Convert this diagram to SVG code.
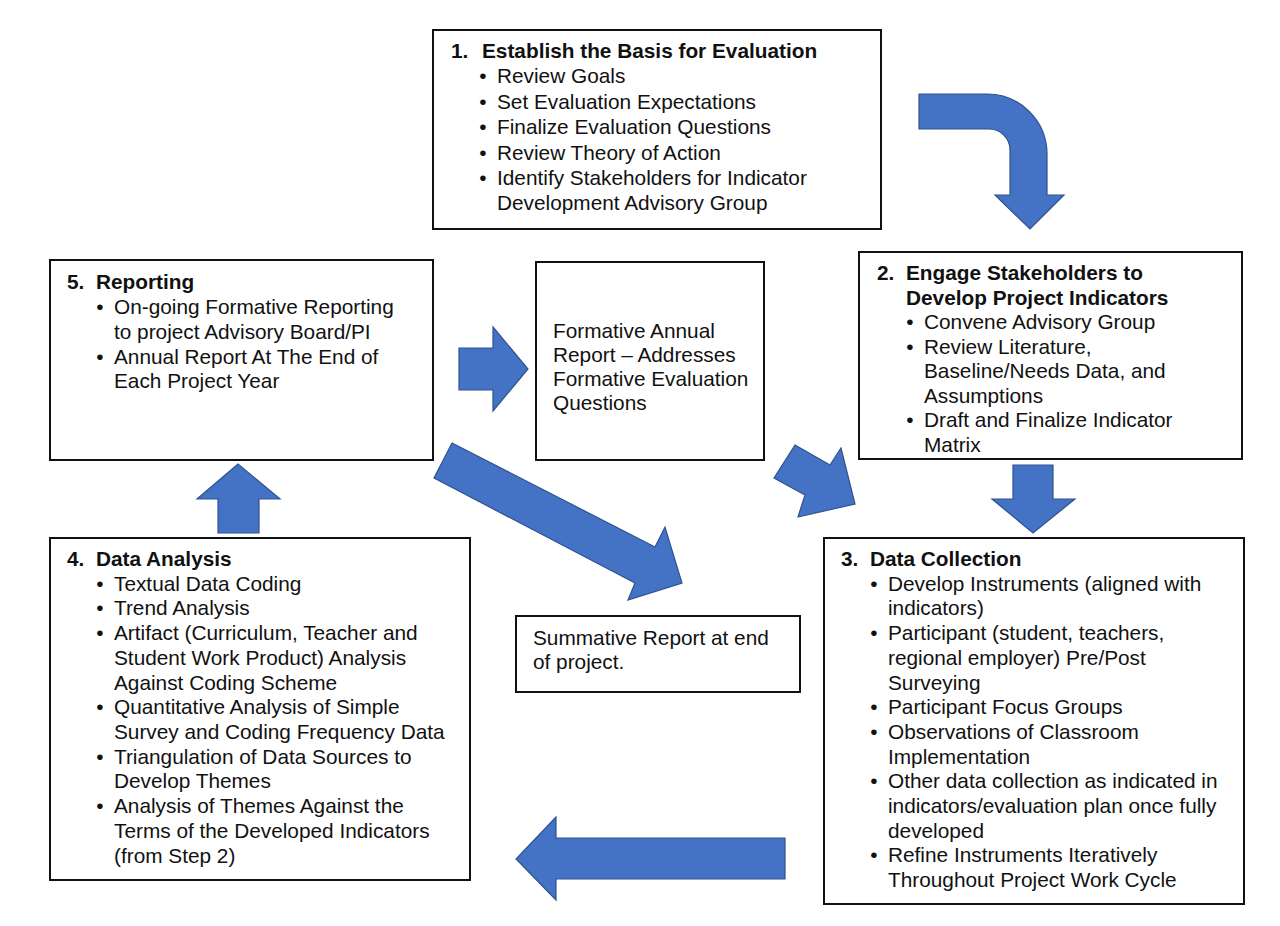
<svg xmlns="http://www.w3.org/2000/svg" width="1280" height="926" viewBox="0 0 1280 926">
<style>
.box{fill:#fff;stroke:#111;stroke-width:2}
text{font-family:"Liberation Sans",Arial,sans-serif;font-size:20.8px;fill:#111}
.b{font-weight:bold}
.bu{text-anchor:middle}
.arr{fill:#4472C4;stroke:#2F528F;stroke-width:1.2;stroke-linejoin:miter}
</style>
<rect width="1280" height="926" fill="#fff"/>
<g id="connectors">
<path class="arr" d="M919,94 H987 A60,60 0 0 1 1047,154 V195 H1064 L1030,229 L995,195 H1010 V150 A21,21 0 0 0 989,129 H919 Z"/>
<path class="arr" d="M459,348 H493 V327 L528,369 L493,411 V390 H459 Z"/>
<path class="arr" d="M452,443 L655,547 L665,527 L682,583 L628,600 L635,583 L434,478 Z"/>
<path class="arr" d="M795,445 L830,465 L841,448 L855,504 L798,517 L805,495 L774,478 Z"/>
<path class="arr" d="M1013,465 H1053 V499 H1075 L1033,533 L992,499 H1013 Z"/>
<path class="arr" d="M218,533 V499 H197 L238,464 L280,499 H259 V533 Z"/>
<path class="arr" d="M785,838 V879 H556 V900 L516,859 L556,817 V838 Z"/>
</g>
<g id="node1">
<rect class="box" x="433" y="30" width="448" height="199"/>
<text class="b" x="451" y="58">1.</text>
<text class="b" x="482" y="58">Establish the Basis for Evaluation</text>
<text class="bu" x="483" y="83">•</text><text x="497" y="83">Review Goals</text>
<text class="bu" x="483" y="109">•</text><text x="497" y="109">Set Evaluation Expectations</text>
<text class="bu" x="483" y="134">•</text><text x="497" y="134">Finalize Evaluation Questions</text>
<text class="bu" x="483" y="160">•</text><text x="497" y="160">Review Theory of Action</text>
<text class="bu" x="483" y="185">•</text><text x="497" y="185">Identify Stakeholders for Indicator</text>
<text x="497" y="210">Development Advisory Group</text>
</g>
<g id="node5">
<rect class="box" x="50" y="260" width="383" height="200"/>
<text class="b" x="67" y="289">5.</text>
<text class="b" x="96" y="289">Reporting</text>
<text class="bu" x="100" y="314">•</text><text x="114" y="314">On-going Formative Reporting</text>
<text x="114" y="339">to project Advisory Board/PI</text>
<text class="bu" x="100" y="364">•</text><text x="114" y="364">Annual Report At The End of</text>
<text x="114" y="388">Each Project Year</text>
</g>
<g id="formative">
<rect class="box" x="536" y="262" width="228" height="198"/>
<text x="553" y="338">Formative Annual</text>
<text x="553" y="362">Report – Addresses</text>
<text x="553" y="386">Formative Evaluation</text>
<text x="553" y="410">Questions</text>
</g>
<g id="node2">
<rect class="box" x="859" y="252" width="383" height="207"/>
<text class="b" x="877" y="280">2.</text>
<text class="b" x="906" y="280">Engage Stakeholders to</text>
<text class="b" x="906" y="305">Develop Project Indicators</text>
<text class="bu" x="910" y="329">•</text><text x="924" y="329">Convene Advisory Group</text>
<text class="bu" x="910" y="354">•</text><text x="924" y="354">Review Literature,</text>
<text x="924" y="378">Baseline/Needs Data, and</text>
<text x="924" y="403">Assumptions</text>
<text class="bu" x="910" y="427">•</text><text x="924" y="427">Draft and Finalize Indicator</text>
<text x="924" y="452">Matrix</text>
</g>
<g id="node3">
<rect class="box" x="824" y="538" width="420" height="366"/>
<text class="b" x="841" y="566">3.</text>
<text class="b" x="870" y="566">Data Collection</text>
<text class="bu" x="874" y="591">•</text><text x="888" y="591">Develop Instruments (aligned with</text>
<text x="888" y="615">indicators)</text>
<text class="bu" x="874" y="640">•</text><text x="888" y="640">Participant (student, teachers,</text>
<text x="888" y="665">regional employer) Pre/Post</text>
<text x="888" y="690">Surveying</text>
<text class="bu" x="874" y="714">•</text><text x="888" y="714">Participant Focus Groups</text>
<text class="bu" x="874" y="739">•</text><text x="888" y="739">Observations of Classroom</text>
<text x="888" y="764">Implementation</text>
<text class="bu" x="874" y="788">•</text><text x="888" y="788">Other data collection as indicated in</text>
<text x="888" y="813">indicators/evaluation plan once fully</text>
<text x="888" y="838">developed</text>
<text class="bu" x="874" y="862">•</text><text x="888" y="862">Refine Instruments Iteratively</text>
<text x="888" y="887">Throughout Project Work Cycle</text>
</g>
<g id="node4">
<rect class="box" x="50" y="538" width="420" height="342"/>
<text class="b" x="67" y="566">4.</text>
<text class="b" x="96" y="566">Data Analysis</text>
<text class="bu" x="100" y="591">•</text><text x="114" y="591">Textual Data Coding</text>
<text class="bu" x="100" y="615">•</text><text x="114" y="615">Trend Analysis</text>
<text class="bu" x="100" y="640">•</text><text x="114" y="640">Artifact (Curriculum, Teacher and</text>
<text x="114" y="665">Student Work Product) Analysis</text>
<text x="114" y="690">Against Coding Scheme</text>
<text class="bu" x="100" y="714">•</text><text x="114" y="714">Quantitative Analysis of Simple</text>
<text x="114" y="739">Survey and Coding Frequency Data</text>
<text class="bu" x="100" y="764">•</text><text x="114" y="764">Triangulation of Data Sources to</text>
<text x="114" y="788">Develop Themes</text>
<text class="bu" x="100" y="813">•</text><text x="114" y="813">Analysis of Themes Against the</text>
<text x="114" y="838">Terms of the Developed Indicators</text>
<text x="114" y="863">(from Step 2)</text>
</g>
<g id="summative">
<rect class="box" x="516" y="616" width="284" height="76"/>
<text x="533" y="645">Summative Report at end</text>
<text x="533" y="669">of project.</text>
</g>
</svg>
